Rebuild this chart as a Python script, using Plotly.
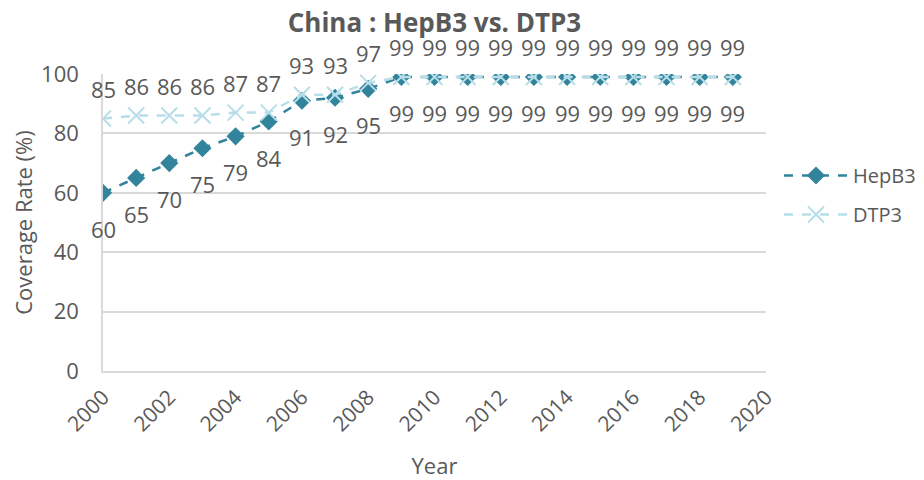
import plotly.graph_objects as go

years = list(range(2000, 2020))
hepb3 = [60, 65, 70, 75, 79, 84, 91, 92, 95, 99, 99, 99, 99, 99, 99, 99, 99, 99, 99, 99]
dtp3 = [85, 86, 86, 86, 87, 87, 93, 93, 97, 99, 99, 99, 99, 99, 99, 99, 99, 99, 99, 99]

HEP_COLOR = "#31849B"
DTP_COLOR = "#B7DEE8"
TEXT = "#595959"
FONT = "Open Sans"

fig = go.Figure()
fig.add_trace(go.Scatter(
    x=years, y=hepb3, name="HepB3", mode="lines+markers",
    line=dict(color=HEP_COLOR, width=2.5, dash="dash"),
    marker=dict(symbol="diamond", size=14, color=HEP_COLOR),
    legendgroup="a",
))
fig.add_trace(go.Scatter(
    x=years, y=dtp3, name="DTP3", mode="lines+markers",
    line=dict(color=DTP_COLOR, width=2.5, dash="dash"),
    marker=dict(symbol="x-thin-open", size=16, color=DTP_COLOR, line=dict(color=DTP_COLOR, width=2)),
    legendgroup="b",
))

annotations = []
for x, y in zip(years, hepb3):
    annotations.append(dict(x=x, y=y, text=str(y), showarrow=False, yshift=-36,
                            font=dict(family=FONT, size=22, color=TEXT)))
for x, y in zip(years, dtp3):
    annotations.append(dict(x=x, y=y, text=str(y), showarrow=False, yshift=30,
                            font=dict(family=FONT, size=22, color=TEXT)))

fig.update_layout(
    width=924, height=480,
    margin=dict(l=95, r=166, t=66, b=117),
    paper_bgcolor="white", plot_bgcolor="white",
    font=dict(family=FONT, color=TEXT, size=21),
    title=dict(text="<b>China : HepB3 vs. DTP3</b>", x=(95 + 663 / 2) / 924, xanchor="center",
               y=1 - 15 / 480, yanchor="middle",
               font=dict(family=FONT, size=26, color=TEXT)),
    xaxis=dict(range=[2000, 2020], tickmode="linear", tick0=2000, dtick=2,
               tickangle=-45, showgrid=False, showline=True, linecolor="#D9D9D9",
               linewidth=1.5, zeroline=False, ticks="", ticklabelstandoff=4,
               tickfont=dict(family=FONT, size=21, color=TEXT),
               title=dict(text="Year", font=dict(family=FONT, size=22, color=TEXT), standoff=23)),
    yaxis=dict(range=[0, 100], tickmode="linear", tick0=0, dtick=20,
               showgrid=True, gridcolor="#D9D9D9", gridwidth=1.5,
               showline=True, linecolor="#D9D9D9", linewidth=1.5, zeroline=False,
               ticks="", ticklabelstandoff=18,
               tickfont=dict(family=FONT, size=22, color=TEXT),
               title=dict(text="Coverage Rate (%)", font=dict(family=FONT, size=22, color=TEXT), standoff=12)),
    legend=dict(xref="container", yref="container", x=771 / 924, xanchor="left",
                y=1 - 148 / 480, yanchor="top",
                font=dict(family=FONT, size=20, color=TEXT), itemwidth=64,
                traceorder="grouped", tracegroupgap=10, bgcolor="rgba(0,0,0,0)"),
    annotations=annotations,
)
fig.update_xaxes(automargin=False)
fig.update_yaxes(automargin=False)

fig.write_html("out.html")
